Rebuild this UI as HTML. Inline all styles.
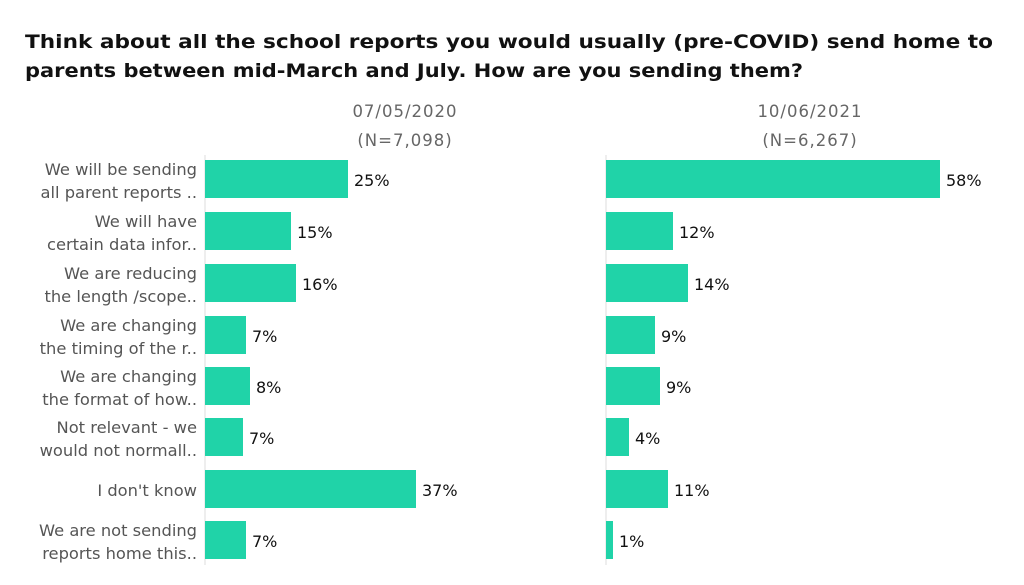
<!DOCTYPE html>
<html><head><meta charset="utf-8"><style>
body{margin:0;background:#fff;}
svg{display:block;font-family:"DejaVu Sans","Liberation Sans",sans-serif;}
</style></head><body>
<svg width="1024" height="585" viewBox="0 0 1024 585">
<text x="25" y="48" font-size="19" font-weight="bold" fill="#111" textLength="968" lengthAdjust="spacingAndGlyphs">Think about all the school reports you would usually (pre-COVID) send home to</text>
<text x="25" y="77" font-size="19" font-weight="bold" fill="#111" textLength="778" lengthAdjust="spacingAndGlyphs">parents between mid-March and July. How are you sending them?</text>
<g font-size="16.5" fill="#666" text-anchor="middle" letter-spacing="1">
<text x="405" y="117">07/05/2020</text>
<text x="405" y="146">(N=7,098)</text>
<text x="810" y="117">10/06/2021</text>
<text x="810" y="146">(N=6,267)</text>
</g>
<line x1="205" y1="155" x2="205" y2="565" stroke="#ddd" stroke-width="1"/>
<line x1="606" y1="155" x2="606" y2="565" stroke="#ddd" stroke-width="1"/>
<g fill="#20d3a8">
<rect x="205" y="160" width="143" height="38"/>
<rect x="205" y="212" width="86" height="38"/>
<rect x="205" y="264" width="91" height="38"/>
<rect x="205" y="316" width="41" height="38"/>
<rect x="205" y="367" width="45" height="38"/>
<rect x="205" y="418" width="38" height="38"/>
<rect x="205" y="470" width="211" height="38"/>
<rect x="205" y="521" width="41" height="38"/>
<rect x="606" y="160" width="334" height="38"/>
<rect x="606" y="212" width="67" height="38"/>
<rect x="606" y="264" width="82" height="38"/>
<rect x="606" y="316" width="49" height="38"/>
<rect x="606" y="367" width="54" height="38"/>
<rect x="606" y="418" width="23" height="38"/>
<rect x="606" y="470" width="62" height="38"/>
<rect x="606" y="521" width="7" height="38"/>
</g>
<g font-size="16" fill="#111">
<text x="354" y="186">25%</text>
<text x="297" y="238">15%</text>
<text x="302" y="290">16%</text>
<text x="252" y="342">7%</text>
<text x="256" y="393">8%</text>
<text x="249" y="444">7%</text>
<text x="422" y="496">37%</text>
<text x="252" y="547">7%</text>
<text x="946" y="186">58%</text>
<text x="679" y="238">12%</text>
<text x="694" y="290">14%</text>
<text x="661" y="342">9%</text>
<text x="666" y="393">9%</text>
<text x="635" y="444">4%</text>
<text x="674" y="496">11%</text>
<text x="619" y="547">1%</text>
</g>
<g font-size="16.3" fill="#555" text-anchor="end">
<text x="197" y="175">We will be sending</text>
<text x="197" y="198">all parent reports ..</text>
<text x="197" y="227">We will have</text>
<text x="197" y="250">certain data infor..</text>
<text x="197" y="279">We are reducing</text>
<text x="197" y="302">the length /scope..</text>
<text x="197" y="331">We are changing</text>
<text x="197" y="354">the timing of the r..</text>
<text x="197" y="382">We are changing</text>
<text x="197" y="405">the format of how..</text>
<text x="197" y="433">Not relevant - we</text>
<text x="197" y="456">would not normall..</text>
<text x="197" y="496">I don't know</text>
<text x="197" y="536">We are not sending</text>
<text x="197" y="559">reports home this..</text>
</g>
</svg>
</body></html>
